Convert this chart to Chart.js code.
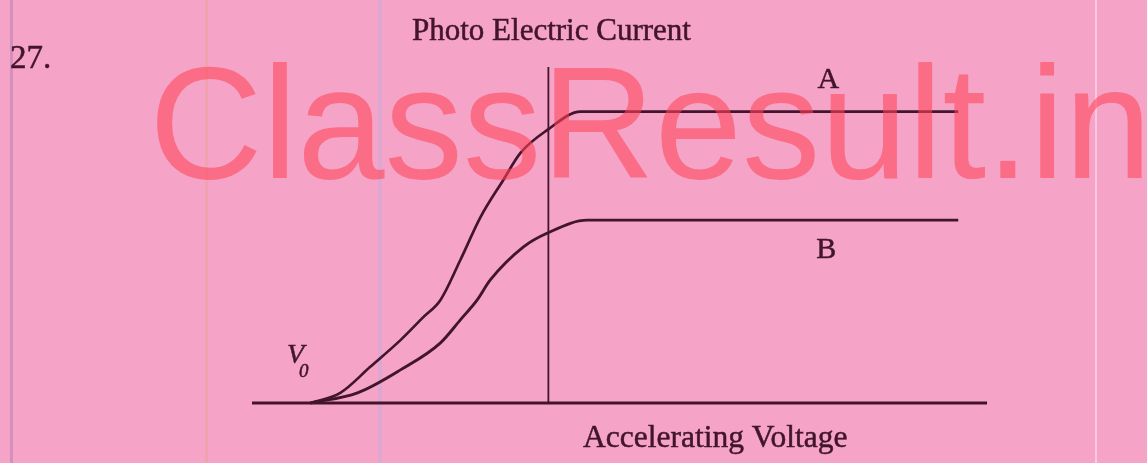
<!DOCTYPE html>
<html>
<head>
<meta charset="utf-8">
<script src="https://cdn.jsdelivr.net/npm/chart.js@4"></script>
<style>
  html, body { margin: 0; padding: 0; background: #f5a4c7; }
  #wrap { width: 1147px; height: 463px; }
</style>
</head>
<body>
<div id="wrap"><canvas id="pe-chart" width="1147" height="463"></canvas></div>
<script>
// ---- DATA ----
const VOLTS_A   = [-8.03, -7.02, -6.01, -4.99, -4.22, -3.64, -2.97, -2.29, -1.52, -0.94, -0.03, 1.08, 13.83];
const CURRENT_A = [0, 0.30, 1.07, 1.86, 2.54, 3.05, 4.23, 5.50, 6.60, 7.40, 8.08, 8.62, 8.62];

const VOLTS_B   = [-8.03, -6.44, -4.99, -3.64, -2.97, -2.40, -1.96, -0.84, -0.03, 1.32, 13.83];
const CURRENT_B = [0, 0.30, 0.98, 1.78, 2.46, 3.05, 3.64, 4.62, 5.03, 5.41, 5.41];

const X_RANGE = [-10, 14.8];
const Y_RANGE = [0, 10];
const Y_AXIS_TOP = 9.94;

const INK = '#42152c';
const SERIF = '"Liberation Serif", "DejaVu Serif", serif';

function toPoints(xs, ys) {
  return xs.map((x, i) => ({ x, y: ys[i] }));
}

// text with a hairline stroke so it reads like scanned print
function inkText(c, txt, x, y) {
  c.fillText(txt, x, y);
  c.strokeText(txt, x, y);
}

// ---- PAGE DECORATION: scan streaks, watermark, texts ----
const backgroundPlugin = {
  id: 'paper',
  beforeDraw(chart) {
    const c = chart.ctx;
    c.save();
    c.fillStyle = '#f5a4c7';
    c.fillRect(0, 0, chart.width, chart.height);
    // faint vertical scan streaks
    const streaks = [[10, 'rgba(150,110,170,0.35)', 3], [205, 'rgba(235,160,150,0.45)', 3],
                     [378, 'rgba(190,170,220,0.45)', 4], [1095, 'rgba(255,225,240,0.6)', 2]];
    streaks.forEach(([x, col, w]) => {
      c.fillStyle = col;
      c.fillRect(x, 0, w, chart.height);
    });
    c.restore();
  },
  afterDatasetsDraw(chart) {
    // semi-transparent watermark over the plot
    const c = chart.ctx;
    const txt = 'ClassResult.in';
    c.save();
    c.font = '160px "Liberation Sans", Arial, sans-serif';
    c.textBaseline = 'alphabetic';
    c.textAlign = 'left';
    const m = c.measureText(txt);
    const inkW = m.actualBoundingBoxLeft + m.actualBoundingBoxRight;
    const sx = (1142 - 157) / inkW;
    c.translate(157, 178);
    c.scale(sx, 1);
    c.fillStyle = 'rgba(255,68,88,0.58)';
    c.fillText(txt, m.actualBoundingBoxLeft, 0);
    c.restore();
  },
  afterDraw(chart) {
    const c = chart.ctx;
    const xs = chart.scales.x, ys = chart.scales.y;
    c.save();
    c.fillStyle = INK;
    c.strokeStyle = INK;
    c.lineWidth = 0.5;
    c.textBaseline = 'alphabetic';
    c.textAlign = 'left';
    c.font = '33px ' + SERIF;
    inkText(c, '27.', 10, 68);
    c.font = '31px ' + SERIF;
    inkText(c, 'Photo Electric Current', 412, 40);
    c.font = '31.5px ' + SERIF;
    inkText(c, 'Accelerating Voltage', 583, 447);

    c.textAlign = 'center';
    c.textBaseline = 'middle';
    c.font = '30px ' + SERIF;
    inkText(c, 'A', xs.getPixelForValue(9.45), ys.getPixelForValue(9.56));
    inkText(c, 'B', xs.getPixelForValue(9.38), ys.getPixelForValue(4.53));

    c.textAlign = 'left';
    c.textBaseline = 'alphabetic';
    c.font = 'italic 28px ' + SERIF;
    inkText(c, 'V', 287, 363);
    c.font = 'italic 19px ' + SERIF;
    inkText(c, '0', 299, 377);
    c.restore();
  },
};

// ---- CHART ----
const ctx = document.getElementById('pe-chart').getContext('2d');

new Chart(ctx, {
  type: 'line',
  data: {
    datasets: [
      {
        label: 'axis-x',
        data: toPoints([X_RANGE[0], X_RANGE[1]], [0, 0]),
        borderColor: INK,
        borderWidth: 2.8,
        pointRadius: 0,
        clip: false,
      },
      {
        label: 'axis-y',
        data: toPoints([0, 0], [0, Y_AXIS_TOP]),
        borderColor: INK,
        borderWidth: 1.8,
        pointRadius: 0,
        clip: false,
      },
      {
        label: 'A',
        data: toPoints(VOLTS_A, CURRENT_A),
        borderColor: INK,
        borderWidth: 2.7,
        pointRadius: 0,
        cubicInterpolationMode: 'monotone',
        clip: false,
      },
      {
        label: 'B',
        data: toPoints(VOLTS_B, CURRENT_B),
        borderColor: INK,
        borderWidth: 2.9,
        pointRadius: 0,
        cubicInterpolationMode: 'monotone',
        clip: false,
      },
    ],
  },
  options: {
    responsive: false,
    animation: false,
    layout: { padding: { left: 252, right: 160, top: 65, bottom: 60 } },
    plugins: {
      legend: { display: false },
      tooltip: { enabled: false },
    },
    scales: {
      x: { type: 'linear', min: X_RANGE[0], max: X_RANGE[1], display: false },
      y: { type: 'linear', min: Y_RANGE[0], max: Y_RANGE[1], display: false },
    },
  },
  plugins: [backgroundPlugin],
});
</script>
</body>
</html>
